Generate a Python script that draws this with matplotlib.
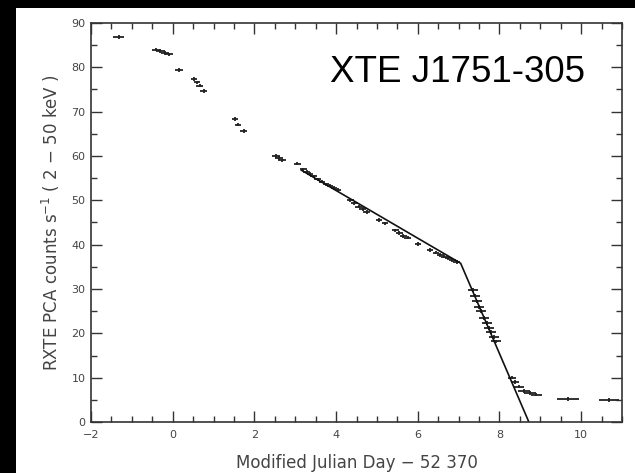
import matplotlib.pyplot as plt
from matplotlib.patches import Rectangle
from matplotlib.ticker import MultipleLocator

# light curve points (MJD - 52370, counts/s)
t = [-1.32, -0.40, -0.30, -0.18, -0.10, 0.16, 0.52, 0.60, 0.66, 0.76,
     1.52, 1.60, 1.74, 2.52, 2.60, 2.68, 3.05,
     3.20, 3.28, 3.36, 3.45, 3.55, 3.65, 3.75, 3.85, 3.95, 4.05,
     4.35, 4.45, 4.55, 4.65, 4.75, 5.05, 5.20,
     5.45, 5.55, 5.65, 5.75, 6.00, 6.30, 6.45, 6.55, 6.65, 6.75, 6.85, 6.95,
     7.35, 7.40, 7.45, 7.50, 7.55, 7.62, 7.70, 7.75, 7.80, 7.86, 7.92,
     8.30, 8.38, 8.48, 8.60, 8.75, 8.90, 9.67, 10.68]
rate = [86.9, 84.0, 83.7, 83.2, 82.9, 79.4, 77.4, 76.6, 75.9, 74.6,
        68.3, 67.1, 65.7, 60.0, 59.6, 59.0, 58.3,
        57.0, 56.5, 56.0, 55.4, 54.7, 54.2, 53.6, 53.3, 52.8, 52.3,
        50.0, 49.3, 48.6, 48.0, 47.4, 45.6, 44.8,
        43.2, 42.6, 42.0, 41.6, 40.2, 38.8, 38.2, 37.7, 37.3, 36.9, 36.5, 36.1,
        29.8, 28.5, 27.2, 26.0, 25.0, 23.5, 22.3, 21.2, 20.3, 19.2, 18.2,
        10.0, 9.0, 8.0, 7.0, 6.5, 6.2, 5.2, 4.95]
t_err = [0.14, 0.10, 0.10, 0.10, 0.10, 0.10, 0.08, 0.08, 0.08, 0.08,
         0.08, 0.08, 0.08, 0.10, 0.10, 0.10, 0.08,
         0.08, 0.08, 0.08, 0.08, 0.08, 0.08, 0.08, 0.08, 0.08, 0.08,
         0.08, 0.08, 0.08, 0.08, 0.08, 0.08, 0.08,
         0.08, 0.08, 0.08, 0.08, 0.08, 0.08, 0.08, 0.08, 0.08, 0.08, 0.08, 0.08,
         0.12, 0.12, 0.12, 0.12, 0.12, 0.12, 0.12, 0.12, 0.12, 0.12, 0.12,
         0.10, 0.10, 0.12, 0.14, 0.14, 0.14, 0.27, 0.25]
rate_err = 0.4

# broken linear fit
fit_t = [3.15, 7.05, 8.72]
fit_rate = [56.8, 35.8, 0.0]

fig = plt.figure(figsize=(6.35, 4.73), dpi=100, facecolor="white")
# plain white page, then the black strips at top and left of the screenshot
fig.add_artist(Rectangle((0, 0), 1, 1, transform=fig.transFigure,
                         facecolor="white", edgecolor="none", zorder=-2))
fig.add_artist(Rectangle((0, 1 - 8 / 473), 1, 8 / 473, transform=fig.transFigure,
                         facecolor="black", edgecolor="none", zorder=0))
fig.add_artist(Rectangle((0, 0), 16 / 635, 1, transform=fig.transFigure,
                         facecolor="black", edgecolor="none", zorder=0))

ax = fig.add_axes([91 / 635, 1 - 422 / 473, 531 / 635, 399 / 473])
ax.errorbar(t, rate, xerr=t_err, yerr=rate_err, fmt="none", ecolor="#222222",
            elinewidth=1.3, capsize=0)
ax.plot(fit_t, fit_rate, color="#111111", lw=1.2)

ax.set_xlim(-2, 11)
ax.set_ylim(0, 90)
ax.xaxis.set_major_locator(MultipleLocator(2))
ax.xaxis.set_minor_locator(MultipleLocator(0.5))
ax.yaxis.set_major_locator(MultipleLocator(10))
ax.yaxis.set_minor_locator(MultipleLocator(5))
ax.tick_params(which="both", direction="in", top=True, right=True,
               color="#333333", labelcolor="#444444", labelsize=8)
ax.tick_params(which="major", length=8, width=1)
ax.tick_params(which="minor", length=4, width=1)
ax.tick_params(axis="x", pad=6)
ax.tick_params(axis="y", pad=4)
for s in ax.spines.values():
    s.set_color("#333333")
    s.set_linewidth(1.2)

ax.set_xlabel("Modified Julian Day \u2212 52 370", fontsize=12, color="#444444",
              labelpad=10)
ax.set_ylabel("RXTE PCA counts s$^{-1}$ ( 2 \u2212 50 keV )", fontsize=12,
              color="#444444", labelpad=7)

# source name, placed in pixels (baseline 82 px from the top)
ax.text(458, 473 - 82, "XTE J1751-305", transform=None, fontsize=26.5,
        family="Liberation Sans", ha="center", va="baseline", color="black")

fig.savefig("out.png", dpi=100, facecolor="white")
